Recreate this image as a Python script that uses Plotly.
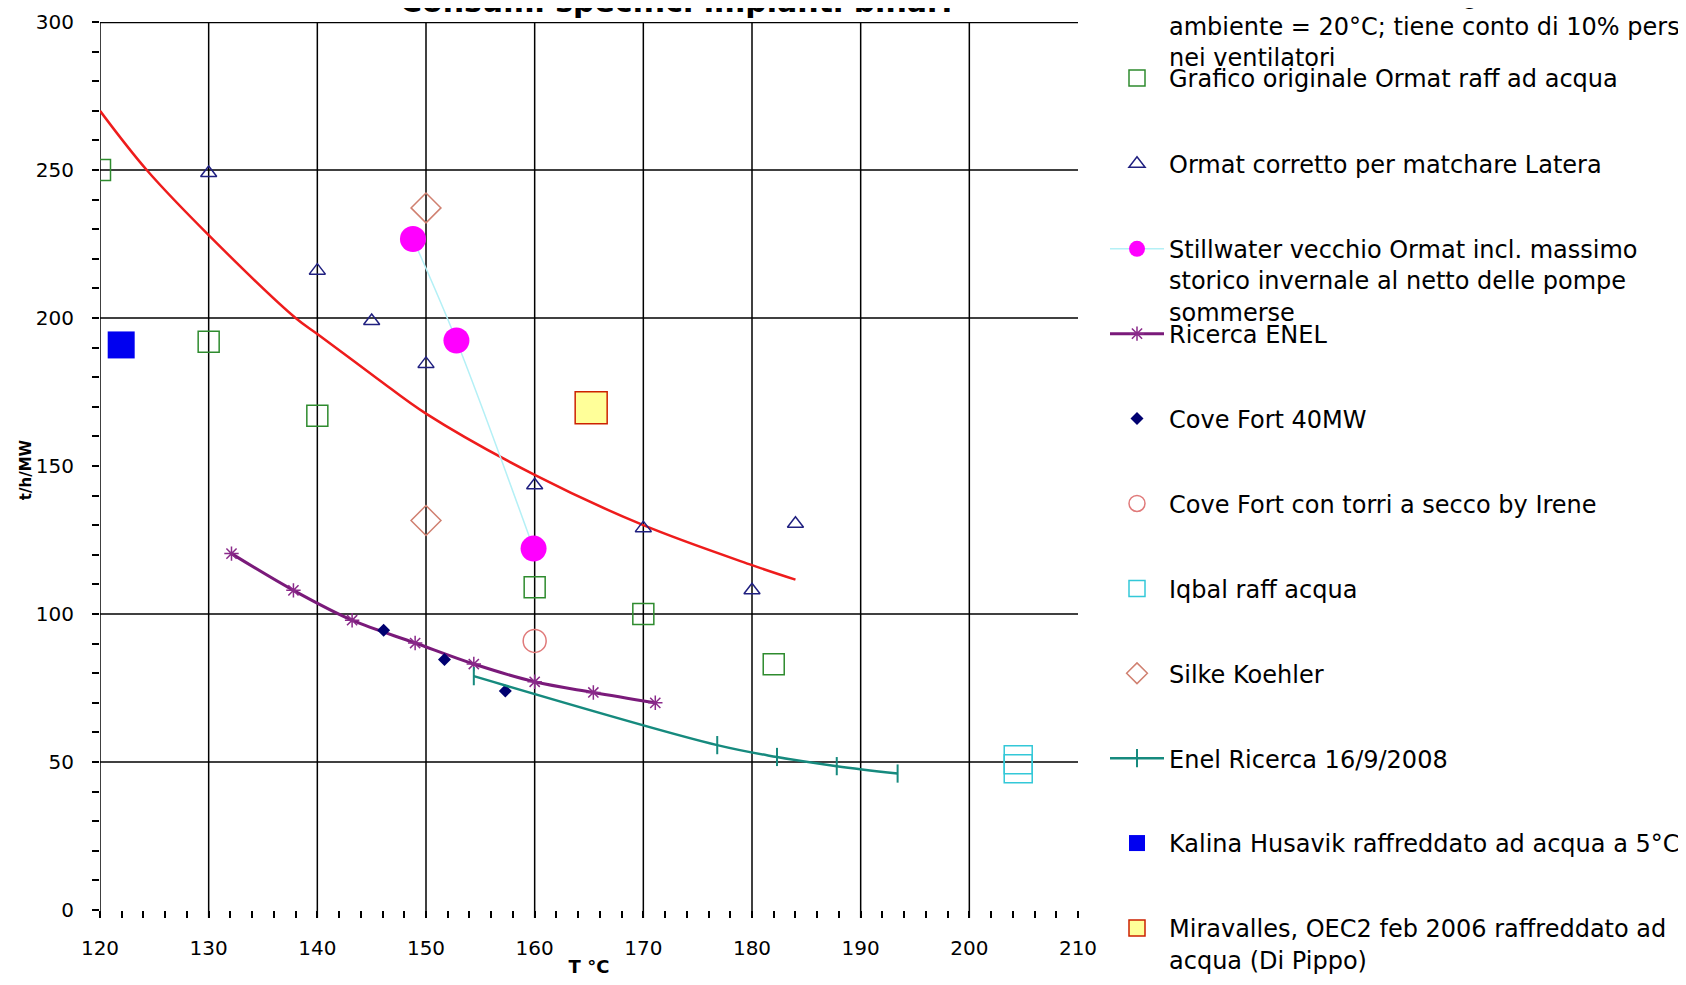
import plotly.graph_objects as go

# ---------------- data ----------------
formula_x = [120, 124.3, 130, 138, 140, 145.5, 150, 160, 170, 180, 184]
formula_y = [270, 250, 228, 200, 194.6, 179.6, 167.7, 147, 130, 116.5, 111.6]

ormat_orig_x = [120, 130, 140, 160, 170, 182]
ormat_orig_y = [250, 192, 167, 109, 100, 83]

ormat_corr_x = [130, 140, 145, 150, 160, 170, 180, 184]
ormat_corr_y = [249, 216, 199, 184.5, 143.5, 129, 108, 130.5]

stillwater_x = [148.8, 152.8, 159.9]
stillwater_y = [226.7, 192.4, 122.1]

enel_x = [132.1, 137.8, 143.2, 149.0, 154.4, 160.0, 165.4, 171.1]
enel_y = [120.4, 108.0, 97.9, 90.2, 83.1, 77.1, 73.5, 70.0]

cove_x = [146.1, 151.7, 157.3]
cove_y = [94.5, 84.6, 74.0]

cove_dry_x = [160]
cove_dry_y = [90.9]

iqbal_x = [204.5, 204.5]
iqbal_y = [50.8, 47.7]

silke_x = [150, 150]
silke_y = [237.2, 131.6]

enel2008_x = [154.4, 176.8, 182.3, 187.8, 193.4]
enel2008_y = [79.0, 55.7, 51.7, 48.6, 46.1]

kalina_x = [121.95]
kalina_y = [190.9]

mira_x = [165.2]
mira_y = [169.7]

x_ticks = [120, 130, 140, 150, 160, 170, 180, 190, 200, 210]
y_ticks = [0, 50, 100, 150, 200, 250, 300]
grid_x = [120, 130, 140, 150, 160, 170, 180, 190, 200]
grid_y = [50, 100, 200, 250, 300]

names = [
    "formula teorica con exergia = 0.7 – 220°C e T<br>ambiente = 20°C; tiene conto di 10% perso<br>nei ventilatori",
    "Grafico originale Ormat raff ad acqua",
    "Ormat corretto per matchare Latera",
    "Stillwater vecchio Ormat incl. massimo<br>storico invernale al netto delle pompe<br>sommerse",
    "Ricerca ENEL",
    "Cove Fort 40MW",
    "Cove Fort con torri a secco by Irene",
    "Iqbal raff acqua",
    "Silke Koehler",
    "Enel Ricerca 16/9/2008",
    "Kalina Husavik raffreddato ad acqua a 5°C",
    "Miravalles, OEC2 feb 2006 raffreddato ad<br>acqua (Di Pippo)",
]

# ---------------- layout geometry (figure px; page has an 8px body margin) ----------------
OFF = 8
W, H = 1686 - 2 * OFF, 985 - 2 * OFF
PL, PR, PT, PB = 100 - OFF, 1078 - OFF, 21.5 - OFF, 918 - OFF
PW, PH = PR - PL, PB - PT
FONT = "DejaVu Sans"


def py(px):
    return 1 - (px - PT) / PH


def pxx(px):
    return (px - PL) / PW


fig = go.Figure()

lg = ["legend"] + ["legend%d" % i for i in range(2, 13)]

fig.add_trace(go.Scatter(x=formula_x, y=formula_y, mode="lines", name=names[0],
                         line=dict(color="#ee1c1c", width=2.5, shape="spline"), legend=lg[0]))
fig.add_trace(go.Scatter(x=ormat_orig_x, y=ormat_orig_y, mode="markers", name=names[1],
                         marker=dict(symbol="square-open", size=21, color="#2e8b2e",
                                     line=dict(width=1.5, color="#2e8b2e")), legend=lg[1]))
fig.add_trace(go.Scatter(x=ormat_corr_x, y=ormat_corr_y, mode="markers", name=names[2],
                         marker=dict(symbol="triangle-up-open", size=14, color="#202080",
                                     line=dict(width=1.5, color="#202080")), legend=lg[2]))
fig.add_trace(go.Scatter(x=stillwater_x, y=stillwater_y, mode="lines+markers", name=names[3],
                         line=dict(color="#b4f0f6", width=1.5, shape="spline"),
                         marker=dict(symbol="circle", size=26, color="#ff00ff"), legend=lg[3]))
fig.add_trace(go.Scatter(x=enel_x, y=enel_y, mode="lines+markers", name=names[4],
                         line=dict(color="#7a1a7a", width=3, shape="spline"),
                         marker=dict(symbol="asterisk-open", size=12, color="#8a2a8a",
                                     line=dict(width=1.5, color="#8a2a8a")), legend=lg[4]))
fig.add_trace(go.Scatter(x=cove_x, y=cove_y, mode="markers", name=names[5],
                         marker=dict(symbol="diamond", size=10, color="#000070"), legend=lg[5]))
fig.add_trace(go.Scatter(x=cove_dry_x, y=cove_dry_y, mode="markers", name=names[6],
                         marker=dict(symbol="circle-open", size=23, color="#e07a7a",
                                     line=dict(width=1.5, color="#e07a7a")), legend=lg[6]))
fig.add_trace(go.Scatter(x=iqbal_x, y=iqbal_y, mode="markers", name=names[7],
                         marker=dict(symbol="square-open", size=28, color="#33c8d8",
                                     line=dict(width=1.5, color="#33c8d8")), legend=lg[7]))
fig.add_trace(go.Scatter(x=silke_x, y=silke_y, mode="markers", name=names[8],
                         marker=dict(symbol="diamond-open", size=23, color="#d08070",
                                     line=dict(width=1.5, color="#d08070")), legend=lg[8]))
fig.add_trace(go.Scatter(x=enel2008_x, y=enel2008_y, mode="lines+markers", name=names[9],
                         line=dict(color="#168a7e", width=2.5, shape="spline"),
                         marker=dict(symbol="line-ns-open", size=13, color="#168a7e",
                                     line=dict(width=2, color="#168a7e")), legend=lg[9]))
fig.add_trace(go.Scatter(x=kalina_x, y=kalina_y, mode="markers", name=names[10],
                         marker=dict(symbol="square", size=27, color="#0000f0"), legend=lg[10]))
fig.add_trace(go.Scatter(x=mira_x, y=mira_y, mode="markers", name=names[11],
                         marker=dict(symbol="square", size=32, color="#ffff99",
                                     line=dict(width=1.5, color="#cc2200")), legend=lg[11]))

# grid lines
shapes = []
for gx in grid_x:
    shapes.append(dict(type="line", xref="x", yref="paper", x0=gx, x1=gx, y0=0, y1=1,
                       line=dict(color="black", width=1.5), layer="below"))
for gy in grid_y:
    shapes.append(dict(type="line", xref="paper", yref="y", x0=0, x1=1, y0=gy, y1=gy,
                       line=dict(color="black", width=2.5 if gy == 300 else 1.5), layer="below"))

# legends: one per entry, fixed spacing as in the reference (screen px of first text line)
first_line_px = [-6.0, 77.4, 163.4, 248.4, 333.3, 418.3, 503.2, 588.2, 673.1, 758.1, 843.0, 928.0]
LEG_FS = 24
LH = 1.3 * LEG_FS
legend_layout = {}
for i, c in enumerate(first_line_px):
    top = (c - OFF) - (LH / 2 + 6.5)
    legend_layout[lg[i]] = dict(
        x=pxx(1105 - OFF), y=py(top), xanchor="left", yanchor="top",
        bgcolor="rgba(0,0,0,0)", borderwidth=0, itemwidth=54, valign="top",
        font=dict(family=FONT, size=LEG_FS, color="black"),
    )

fig.update_layout(
    width=W, height=H,
    margin=dict(l=PL, r=W - PR, t=PT, b=H - PB, autoexpand=False),
    paper_bgcolor="white", plot_bgcolor="white",
    font=dict(family=FONT, color="black"),
    shapes=shapes,
    showlegend=True,
    annotations=[dict(text="<b>Consumi specifici impianti binari</b>", xref="paper", yref="paper",
                      x=pxx(676 - OFF), y=py(0.5 - OFF), xanchor="center", yanchor="middle",
                      showarrow=False, font=dict(family=FONT, size=30, color="black"))],
    xaxis=dict(range=[120, 210], tickvals=x_ticks, ticks="", showgrid=False, zeroline=False,
               showline=False, tickfont=dict(family=FONT, size=20, color="black"),
               ticklabelstandoff=16,
               minor=dict(dtick=2, tick0=120, ticks="inside", ticklen=7, tickwidth=1.5,
                          tickcolor="black", showgrid=False),
               title=dict(text="<b>T °C</b>", font=dict(family=FONT, size=18, color="black"),
                          standoff=7)),
    yaxis=dict(range=[-2.7, 300], tickvals=y_ticks, ticks="outside", ticklen=7, tickwidth=1.5,
               tickcolor="black", showgrid=False, zeroline=False, showline=False,
               tickfont=dict(family=FONT, size=20, color="black"), ticklabelstandoff=14,
               minor=dict(dtick=10, tick0=0, ticks="outside", ticklen=7, tickwidth=1.5,
                          tickcolor="black", showgrid=False),
               title=dict(text="<b>t/h/MW</b>", font=dict(family=FONT, size=15, color="black"),
                          standoff=0)),
    **legend_layout,
)

fig.write_html("out.html")
